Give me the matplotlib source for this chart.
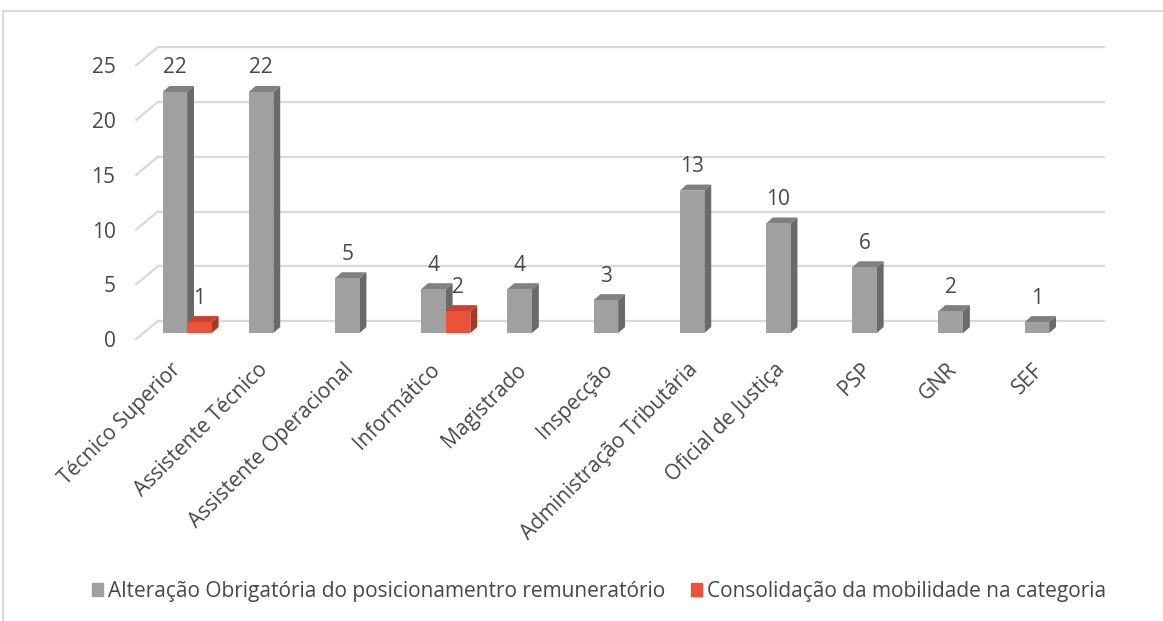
import matplotlib.pyplot as plt
import numpy as np
from matplotlib.patches import Rectangle, Patch

plt.rcParams['font.family'] = ['Open Sans', 'DejaVu Sans']

# dados
categorias = ['Técnico Superior', 'Assistente Técnico', 'Assistente Operacional', 'Informático',
              'Magistrado', 'Inspecção', 'Administração Tributária', 'Oficial de Justiça',
              'PSP', 'GNR', 'SEF']
alteracao = [22, 22, 5, 4, 4, 3, 13, 10, 6, 2, 1]
consolidacao = [1, np.nan, np.nan, 2, np.nan, np.nan, np.nan, np.nan, np.nan, np.nan, np.nan]
series_nomes = ['Alteração Obrigatória do posicionamentro remuneratório',
                'Consolidação da mobilidade na categoria']
yticks = [0, 5, 10, 15, 20, 25]

# cores (frente, lado, topo)
cinza = ('#A0A0A0', '#6A6A6A', '#808080')
vermelho = ('#EA523A', '#A63A26', '#C8432E')
cor_texto = '#474747'
cor_grelha = '#D9D9D9'

# "profundidade" 3D em unidades de dados
DX, DY = 0.08, 0.55          # profundidade das barras
GX0, GX1, GY = -0.34, 10.65, 1.09   # parede de fundo
FX, FY = -0.59, -0.55        # frente do chão
w = 0.285

fig = plt.figure(figsize=(11.63, 6.21), dpi=100)
ax = fig.add_axes([0.1053, 0.446, 0.8524, 0.4853])
ax.set_xlim(-0.75, 10.75)
ax.set_ylim(-1, 26.5)
for s in ax.spines.values():
    s.set_visible(False)

# grelha com perspectiva
for v in yticks:
    ax.plot([GX0, GX1], [v + GY, v + GY], color=cor_grelha, lw=1.6, zorder=0, solid_capstyle='butt')
    ax.plot([FX, GX0], [v + FY, v + GY], color=cor_grelha, lw=1.6, zorder=0)


def barra3d(xc, h, cores, z):
    xl = xc - w / 2
    ax.bar(xc, h, width=w, color=cores[0], zorder=z, linewidth=0)
    ax.fill([xl + w, xl + w + DX, xl + w + DX, xl + w], [0, DY, h + DY, h],
            color=cores[1], zorder=z - 0.1, linewidth=0)
    ax.fill([xl, xl + DX, xl + w + DX, xl + w], [h, h + DY, h + DY, h],
            color=cores[2], zorder=z - 0.1, linewidth=0)
    ax.text(xc, h + 2.2, f'{int(h)}', ha='center', va='center', fontsize=15,
            color=cor_texto, zorder=10)


x = np.arange(len(categorias))
for i in x:
    barra3d(i - w / 2, alteracao[i], cinza, 2 + i)
    if not np.isnan(consolidacao[i]):
        barra3d(i + w / 2, consolidacao[i], vermelho, 2.5 + i)

ax.set_yticks([v + FY for v in yticks], [str(v) for v in yticks])
ax.set_xticks(x - 0.02, categorias, rotation=45, ha='right')
ax.tick_params(axis='y', length=0, pad=5, labelsize=15, labelcolor=cor_texto)
ax.tick_params(axis='x', length=0, pad=11, labelsize=15, labelcolor=cor_texto)

handles = [Patch(color=cinza[0]), Patch(color=vermelho[0])]
fig.legend(handles, series_nomes, loc='center', bbox_to_anchor=(0.515, 0.048), ncol=2,
           frameon=False, fontsize=15, labelcolor=cor_texto, handlelength=0.55,
           handleheight=0.55, handletextpad=0.25, columnspacing=1.2)

# moldura da área do gráfico
fig.add_artist(Rectangle((3 / 1163, -0.1), 1.2, (610 / 621) + 0.1, transform=fig.transFigure,
                         fill=False, edgecolor=cor_grelha, lw=1.5))

fig.savefig('out.png', dpi=100)
